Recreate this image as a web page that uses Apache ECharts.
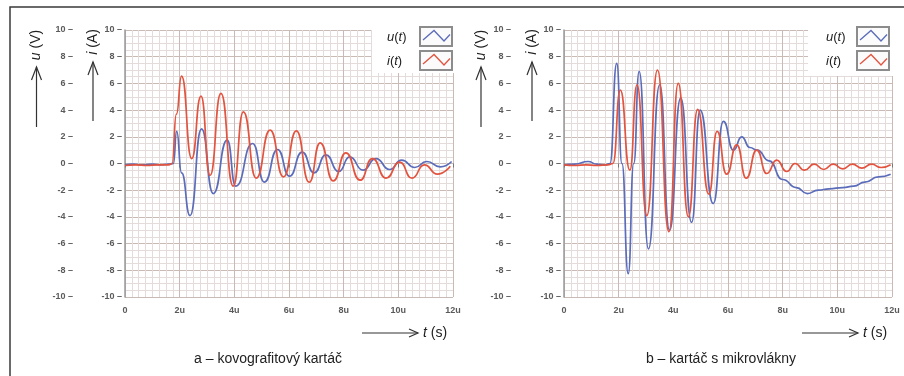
<!DOCTYPE html>
<html>
<head>
<meta charset="utf-8">
<script src="https://cdn.jsdelivr.net/npm/echarts@6/dist/echarts.min.js"></script>
<style>
  html, body { margin: 0; background: #fff; }
  #chart { width: 904px; height: 376px; }
</style>
</head>
<body>
<div id="chart"></div>
<script>
// time axis is in microseconds, labelled "2u", "4u", ...
var tickLabels = ['0', '2u', '4u', '6u', '8u', '10u', '12u'];

// panel a – kovografitový kartáč
var tUa = [0, 0.3, 0.6, 1.0, 1.3, 1.6, 1.77, 1.89, 2.07, 2.38, 2.8, 3.23, 3.74, 4.05, 4.67, 5.1, 5.58, 6.02, 6.48, 6.92, 7.35, 7.82, 8.22, 8.71, 9.18, 9.68, 10.12, 10.6, 11.04, 11.53, 11.95];
var uA  = [-0.1, -0.05, -0.1, -0.05, -0.1, -0.05, 0, 2.4, -0.7, -3.9, 2.6, -2.25, 1.75, -1.7, 1.5, -1.4, 1.05, -0.95, 0.85, -0.7, 0.65, -0.6, 0.5, -0.5, 0.37, -0.45, 0.25, -0.3, 0.15, -0.25, 0.15];
var tIa = [0, 0.4, 0.8, 1.2, 1.6, 1.72, 1.88, 2.07, 2.44, 2.78, 3.11, 3.51, 3.96, 4.33, 4.8, 5.31, 5.8, 6.27, 6.74, 7.14, 7.62, 8.08, 8.6, 9.05, 9.55, 10.05, 10.5, 10.95, 11.43, 11.9];
var iA  = [-0.15, -0.1, -0.15, -0.1, -0.1, 0, 3.7, 6.55, 0.37, 5.05, -0.9, 5.25, -1.7, 3.87, -1.1, 2.5, -1.0, 2.45, -1.4, 1.55, -1.3, 0.8, -1.25, 0.37, -1.1, 0.1, -1.1, -0.1, -0.8, -0.2];

// panel b – kartáč s mikrovlákny
var tUb = [0, 0.4, 0.88, 1.2, 1.5, 1.68, 1.93, 2.12, 2.35, 2.55, 2.75, 3.09, 3.5, 3.86, 4.27, 4.67, 4.98, 5.46, 5.83, 6.2, 6.5, 6.8, 7.07, 7.5, 8.0, 8.5, 8.9, 9.3, 9.7, 10.2, 10.6, 11.0, 11.5, 11.95];
var uB  = [-0.1, -0.05, 0.15, -0.05, -0.1, 0, 7.5, 0, -8.25, 0, 6.9, -6.4, 5.9, -5.0, 4.9, -4.4, 4.0, -3.0, 3.15, 1.0, 2.0, 1.2, 1.0, 0.2, -1.2, -1.8, -2.25, -2.0, -1.9, -1.8, -1.7, -1.4, -1.0, -0.8];
var tIb = [0, 0.4, 0.8, 1.2, 1.6, 1.79, 2.06, 2.41, 2.67, 3.03, 3.42, 3.84, 4.18, 4.55, 4.89, 5.3, 5.6, 5.95, 6.32, 6.67, 7.05, 7.42, 7.78, 8.15, 8.45, 8.8, 9.15, 9.5, 9.85, 10.2, 10.55, 10.9, 11.25, 11.6, 11.95];
var iB  = [-0.1, -0.15, -0.1, -0.15, -0.1, 0, 5.5, -0.5, 5.9, -3.9, 7.0, -5.1, 6.0, -4.0, 4.05, -2.3, 2.4, -0.8, 1.4, -1.1, 1.0, -0.75, 0.25, -0.6, 0.0, -0.5, -0.05, -0.45, -0.05, -0.4, -0.05, -0.35, -0.05, -0.3, -0.1];

var blue = '#5b6cba';
var red = '#e2543f';
var gridMajor = '#c9bab6';
var gridMinor = '#e4dcda';
var tickFont = { fontSize: 9, fontWeight: 'bold', color: '#5a5a5a', fontFamily: 'Liberation Sans' };

function pairs(t, v) {
    return t.map(function (x, k) { return [x, v[k]]; });
}

function xAxis(idx) {
    return {
        type: 'value', gridIndex: idx, min: 0, max: 12, interval: 2,
        axisLine: { show: false },
        axisTick: { show: true, length: 4, lineStyle: { color: '#777' } },
        axisLabel: Object.assign({ margin: 9, formatter: function (v) { return tickLabels[v / 2]; } }, tickFont),
        splitLine: { show: true, lineStyle: { color: gridMajor } },
        minorTick: { show: false, splitNumber: 8 },
        minorSplitLine: { show: true, lineStyle: { color: gridMinor } }
    };
}

function yAxis(idx, offset, main) {
    return {
        type: 'value', gridIndex: idx, min: -10, max: 10, interval: 2,
        position: 'left', offset: offset,
        axisLine: { show: main, lineStyle: { color: '#9a9a9a', width: 1.5 } },
        axisTick: { show: false },
        axisLabel: Object.assign({ margin: 3, formatter: '{value} –' }, tickFont),
        splitLine: { show: main, lineStyle: { color: gridMajor } },
        minorTick: { show: false, splitNumber: 4 },
        minorSplitLine: { show: main, lineStyle: { color: gridMinor } }
    };
}

function line(xi, yi, data, color) {
    return {
        type: 'line', xAxisIndex: xi, yAxisIndex: yi, data: data,
        showSymbol: false, smooth: 0.55, smoothMonotone: 'x',
        lineStyle: { color: color, width: 1.7 }, itemStyle: { color: color },
        silent: true
    };
}

var rich = { i: { fontStyle: 'italic', fontSize: 14, fontFamily: 'Liberation Sans', fill: '#222' } };

function arrowUp(x, yTop, yBot) {
    return [
        { type: 'polyline', z: 100, shape: { points: [[x, yBot], [x, yTop]] }, style: { stroke: '#333', lineWidth: 1.2, fill: null } },
        { type: 'polyline', z: 100, shape: { points: [[x - 5, yTop + 13], [x, yTop], [x + 5, yTop + 13]] }, style: { stroke: '#333', lineWidth: 1.2, fill: null } }
    ];
}

function arrowRight(xL, xR, y) {
    return [
        { type: 'polyline', z: 100, shape: { points: [[xL, y], [xR, y]] }, style: { stroke: '#333', lineWidth: 1.2, fill: null } },
        { type: 'polyline', z: 100, shape: { points: [[xR - 9, y - 4], [xR, y], [xR - 9, y + 4]] }, style: { stroke: '#333', lineWidth: 1.2, fill: null } }
    ];
}

function vText(x, y, str) {
    return {
        type: 'text', z: 100, x: x, y: y, rotation: Math.PI / 2,
        style: { text: str, rich: rich, textAlign: 'center', textVerticalAlign: 'middle', fontSize: 14, fontFamily: 'Liberation Sans', fill: '#222' }
    };
}

function legendEntry(tx, bx, by, label, color) {
    return [
        { type: 'text', z: 101, x: tx, y: by + 10, style: { text: label, rich: { i: { fontStyle: 'italic', fontSize: 13, fontFamily: 'Liberation Sans', fill: '#222' } }, textAlign: 'left', textVerticalAlign: 'middle', fontSize: 13, fontFamily: 'Liberation Sans', fill: '#222' } },
        { type: 'rect', z: 101, shape: { x: bx, y: by, width: 32, height: 19 }, style: { fill: '#fbfbfb', stroke: '#8c8c8c', lineWidth: 2 } },
        { type: 'polyline', z: 102, shape: { points: [[bx + 3, by + 13], [bx + 14, by + 3.5], [bx + 24, by + 14], [bx + 30, by + 7.5]] }, style: { stroke: color, lineWidth: 1.3, fill: null } }
    ];
}

function panel(p) {
    var els = [];
    // white patch under the legend, covering the grid
    els.push({ type: 'rect', z: 99, shape: { x: p.patchX, y: 12, width: 86, height: p.patchH }, style: { fill: '#fff' } });
    els = els.concat(legendEntry(p.legTx, p.legBx, 27, '{i|u}({i|t})', blue));
    els = els.concat(legendEntry(p.legTx, p.legBx, 51, '{i|i}({i|t})', red));
    els.push(vText(p.uX, 45, '{i|u} (V)'));
    els = els.concat(arrowUp(p.uX, 67, 127));
    els.push(vText(p.iX, 42, '{i|i} (A)'));
    els = els.concat(arrowUp(p.iX, 62, 121));
    els = els.concat(arrowRight(p.tArrow, p.tArrow + 56, 333));
    els.push({ type: 'text', z: 100, x: p.tArrow + 61, y: 333, style: { text: '{i|t} (s)', rich: rich, textAlign: 'left', textVerticalAlign: 'middle', fontSize: 14, fontFamily: 'Liberation Sans', fill: '#222' } });
    els.push({ type: 'text', z: 100, x: p.capX, y: 359, style: { text: p.caption, textAlign: 'center', textVerticalAlign: 'middle', fontSize: 14, fontFamily: 'Liberation Sans', fill: '#222' } });
    return els;
}

var graphics = [
    { type: 'rect', z: 100, shape: { x: 10, y: 7, width: 900, height: 380 }, style: { fill: null, stroke: '#3a3a3a', lineWidth: 1.5 } }
].concat(panel({ patchX: 372, patchH: 61, legTx: 387, legBx: 420, uX: 36.5, iX: 93, tArrow: 362, capX: 268, caption: 'a – kovografitový kartáč' }))
 .concat(panel({ patchX: 808, patchH: 64, legTx: 826, legBx: 857, uX: 481, iX: 532, tArrow: 802, capX: 721, caption: 'b – kartáč s mikrovlákny' }));

var chart = echarts.init(document.getElementById('chart'));

chart.setOption({
    animation: false,
    backgroundColor: '#fff',
    grid: [
        { left: 125, top: 30, width: 328, height: 267 },
        { left: 564, top: 30, width: 328, height: 267 }
    ],
    xAxis: [xAxis(0), xAxis(1)],
    yAxis: [yAxis(0, 0, true), yAxis(0, 49, false), yAxis(1, 0, true), yAxis(1, 50, false)],
    series: [
        line(0, 1, pairs(tUa, uA), blue),
        line(0, 0, pairs(tIa, iA), red),
        line(1, 3, pairs(tUb, uB), blue),
        line(1, 2, pairs(tIb, iB), red)
    ],
    graphic: { elements: graphics }
});
</script>
</body>
</html>
